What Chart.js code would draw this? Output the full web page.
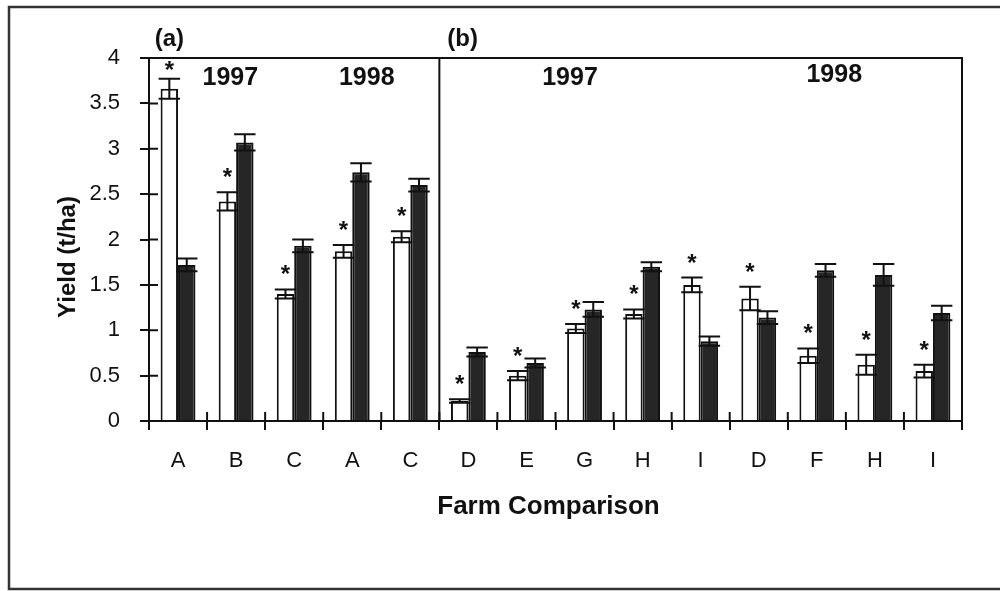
<!DOCTYPE html>
<html>
<head>
<meta charset="utf-8">
<title>Yield by farm comparison</title>
<script src="https://cdn.jsdelivr.net/npm/chart.js@4"></script>
<style>
  html, body { margin: 0; padding: 0; background: #fff; }
  canvas { display: block; }
</style>
</head>
<body>
<canvas id="chart" width="1000" height="591"></canvas>
<script>
// Farm comparisons: panel (a) is the first five, panel (b) the remaining nine
const farms = ['A', 'B', 'C', 'A', 'C', 'D', 'E', 'G', 'H', 'I', 'D', 'F', 'H', 'I'];

// Open bars: yield (t/ha) and standard error
const openYield = [3.66, 2.42, 1.40, 1.87, 2.03, 0.22, 0.50, 1.02, 1.18, 1.50, 1.35, 0.72, 0.62, 0.55];
const openError = [0.11, 0.10, 0.05, 0.07, 0.06, 0.02, 0.05, 0.05, 0.05, 0.08, 0.13, 0.08, 0.11, 0.07];

// Solid bars: yield (t/ha) and standard error
const solidYield = [1.72, 3.07, 1.93, 2.74, 2.60, 0.76, 0.64, 1.23, 1.70, 0.88, 1.14, 1.66, 1.61, 1.19];
const solidError = [0.07, 0.09, 0.07, 0.10, 0.07, 0.05, 0.05, 0.08, 0.05, 0.05, 0.07, 0.07, 0.12, 0.08];

// Significance marker shown above each open bar
const marks = ['*', '*', '*', '*', '*', '*', '*', '*', '*', '*', '*', '*', '*', '*'];

// Y axis ticks
const yTicks = [0, 0.5, 1, 1.5, 2, 2.5, 3, 3.5, 4];

const FONT = "'Liberation Sans', Arial, Helvetica, sans-serif";
const INK = '#111';

// Panel text placed in data coordinates (category index, yield)
const panelText = [
  { text: '(a)',  x: -0.15, y: 4.2,  size: 24 },
  { text: '(b)',  x: 4.9,   y: 4.2,  size: 24 },
  { text: '1997', x: 0.9,   y: 3.78, size: 25 },
  { text: '1998', x: 3.25,  y: 3.78, size: 25 },
  { text: '1997', x: 6.75,  y: 3.78, size: 25 },
  { text: '1998', x: 11.3,  y: 3.81, size: 25 }
];

const decorations = {
  id: 'decorations',
  beforeDraw(chart) {
    const ctx = chart.ctx;
    ctx.save();
    // outer frame of the figure
    ctx.strokeStyle = '#333';
    ctx.lineWidth = 2.5;
    ctx.beginPath();
    ctx.moveTo(1000, 7);
    ctx.lineTo(9, 7);
    ctx.lineTo(9, 589);
    ctx.lineTo(1000, 589);
    ctx.stroke();
    ctx.restore();
  },
  afterDatasetsDraw(chart) {
    const ctx = chart.ctx;
    const area = chart.chartArea;
    const xs = chart.scales.x;
    const ys = chart.scales.y;
    ctx.save();

    // error bars
    const errs = [openError, solidError];
    const vals = [openYield, solidYield];
    ctx.strokeStyle = INK;
    ctx.lineWidth = 2;
    chart.data.datasets.forEach((ds, di) => {
      const meta = chart.getDatasetMeta(di);
      meta.data.forEach((bar, i) => {
        const v = vals[di][i];
        const e = errs[di][i];
        const yTop = ys.getPixelForValue(v + e);
        const yBot = ys.getPixelForValue(v - e);
        const half = bar.width / 2 + 2;
        ctx.beginPath();
        ctx.moveTo(bar.x, yTop);
        ctx.lineTo(bar.x, yBot);
        ctx.moveTo(bar.x - half, yTop);
        ctx.lineTo(bar.x + half, yTop);
        ctx.moveTo(bar.x - half, yBot);
        ctx.lineTo(bar.x + half, yBot);
        ctx.stroke();
      });
    });

    // significance markers above the open bars, kept inside the plot box
    const openMeta = chart.getDatasetMeta(0);
    ctx.fillStyle = INK;
    ctx.font = 'bold 24px ' + FONT;
    ctx.textAlign = 'center';
    ctx.textBaseline = 'alphabetic';
    openMeta.data.forEach((bar, i) => {
      const yTop = ys.getPixelForValue(openYield[i] + openError[i]);
      const base = Math.max(yTop - 7, area.top + 20);
      ctx.fillText(marks[i], bar.x, base);
    });

    // plot box: top and right edges, panel divider
    ctx.strokeStyle = INK;
    ctx.lineWidth = 2;
    const xDiv = (xs.getPixelForValue(4) + xs.getPixelForValue(5)) / 2;
    ctx.beginPath();
    ctx.moveTo(area.left - 9, area.top);
    ctx.lineTo(area.right, area.top);
    ctx.lineTo(area.right, area.bottom);
    ctx.moveTo(xDiv, area.top);
    ctx.lineTo(xDiv, area.bottom);
    ctx.stroke();

    // inner halves of the tick marks
    ctx.beginPath();
    yTicks.forEach(t => {
      const y = ys.getPixelForValue(t);
      ctx.moveTo(area.left, y);
      ctx.lineTo(area.left + 9, y);
    });
    const step = (xs.getPixelForValue(1) - xs.getPixelForValue(0));
    for (let i = 0; i <= farms.length; i++) {
      const x = xs.getPixelForValue(0) - step / 2 + i * step;
      ctx.moveTo(x, area.bottom);
      ctx.lineTo(x, area.bottom - 9);
    }
    ctx.stroke();

    // panel labels and year headings
    ctx.fillStyle = INK;
    ctx.textAlign = 'center';
    ctx.textBaseline = 'middle';
    panelText.forEach(p => {
      ctx.font = 'bold ' + p.size + 'px ' + FONT;
      ctx.fillText(p.text, xs.getPixelForValue(p.x), ys.getPixelForValue(p.y));
    });

    // axis titles
    ctx.font = 'bold 26px ' + FONT;
    ctx.fillText('Farm Comparison', (area.left + area.right) / 2 - 7, 507);
    ctx.font = 'bold 24px ' + FONT;
    ctx.translate(68, 257);
    ctx.rotate(-Math.PI / 2);
    ctx.fillText('Yield (t/ha)', 0, 0);
    ctx.restore();
  }
};

new Chart(document.getElementById('chart'), {
  type: 'bar',
  data: {
    labels: farms,
    datasets: [
      {
        data: openYield,
        backgroundColor: '#ffffff',
        borderColor: INK,
        borderWidth: 2,
        borderSkipped: 'start'
      },
      {
        data: solidYield,
        backgroundColor: '#262626',
        borderColor: INK,
        borderWidth: 2,
        borderSkipped: 'start'
      }
    ]
  },
  options: {
    responsive: false,
    animation: false,
    events: [],
    layout: { padding: { top: 58, right: 38, left: 0, bottom: 0 } },
    datasets: { bar: { categoryPercentage: 0.6, barPercentage: 1.0 } },
    plugins: {
      legend: { display: false },
      tooltip: { enabled: false },
      title: { display: false }
    },
    scales: {
      x: {
        afterFit(scale) { scale.height = 170; },
        grid: {
          offset: true,
          drawOnChartArea: false,
          drawTicks: true,
          tickLength: 9,
          color: INK,
          lineWidth: 2
        },
        border: { display: true, color: INK, width: 2 },
        ticks: {
          color: INK,
          padding: 18,
          font: { family: FONT, size: 22 }
        }
      },
      y: {
        min: 0,
        max: 4,
        afterFit(scale) { scale.width = 149; },
        afterBuildTicks(scale) { scale.ticks = yTicks.map(v => ({ value: v })); },
        grid: {
          drawOnChartArea: false,
          drawTicks: true,
          tickLength: 9,
          color: INK,
          lineWidth: 2
        },
        border: { display: true, color: INK, width: 2 },
        ticks: {
          color: INK,
          padding: 20,
          font: { family: FONT, size: 22 },
          callback: v => String(v)
        }
      }
    }
  },
  plugins: [decorations]
});
</script>
</body>
</html>
